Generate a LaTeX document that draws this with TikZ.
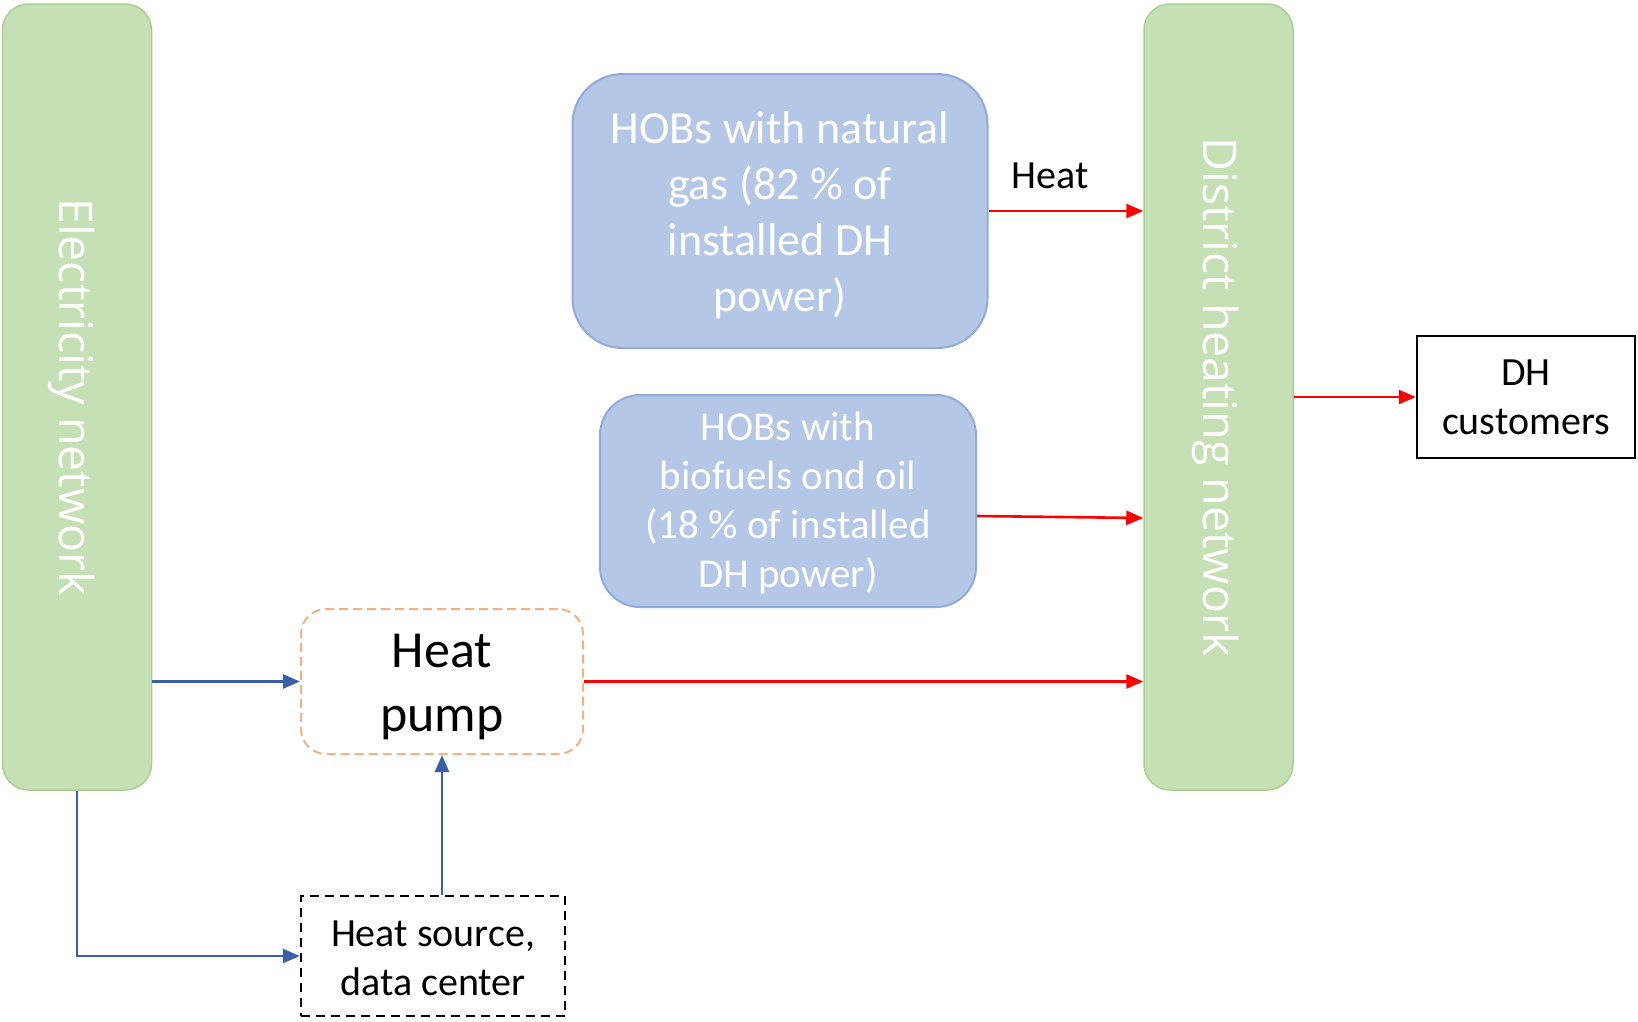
\documentclass[tikz,border=0pt]{standalone}
\usepackage{fontspec}
\setmainfont{Carlito}
\newfontfamily\barfont{Open Sans}
\usetikzlibrary{arrows.meta,calc}
\definecolor{barfill}{HTML}{C5E0B4}
\definecolor{barline}{HTML}{A9D18E}
\definecolor{hobfill}{HTML}{B4C7E7}
\definecolor{hobline}{HTML}{8FAADC}
\definecolor{hpline}{HTML}{F4B183}
\definecolor{bluearr}{HTML}{3A5FA8}
\definecolor{redarr}{HTML}{FF0000}
\begin{document}
\begin{tikzpicture}[x=1pt,y=-1pt,
  greenbar/.style={draw=barline, fill=barfill, rounded corners=26pt, line width=1.5pt, inner sep=0pt},
  bartext/.style={text=white, font=\barfont\fontsize{46.5}{55}\selectfont, inner sep=0pt},
  hobbox/.style={draw=hobline, fill=hobfill, rounded corners=50pt, line width=2pt, inner sep=0pt},
  hobtext/.style={text=white, align=center, inner sep=0pt},
  hpbox/.style={draw=hpline, dash pattern=on 9pt off 5pt, rounded corners=25pt, line width=2pt, inner sep=0pt},
  hptext/.style={align=center, inner sep=0pt, font=\fontsize{52}{64}\selectfont},
  hsbox/.style={draw=black, dash pattern=on 9pt off 6pt, line width=2.2pt, inner sep=0pt},
  smalltext/.style={align=center, inner sep=0pt, font=\fontsize{40}{49}\selectfont},
  custbox/.style={draw=black, line width=2.5pt, align=center, inner sep=0pt, font=\fontsize{40}{49}\selectfont},
  redline/.style={draw=redarr, line width=2.6pt, -{Triangle[length=17pt,width=14pt]}},
  blueline/.style={draw=bluearr, line width=2.6pt, -{Triangle[length=17pt,width=14pt]}},
  lbl/.style={inner sep=0pt, font=\fontsize{40}{48}\selectfont}
]
\useasboundingbox (0,0) rectangle (1638,1021);
% bars
\node[greenbar, minimum width=149pt, minimum height=786pt] (elec) at (77,397) {};
\node[bartext, rotate=-90] (electext) at (72,397) {Electricity network};
\node[greenbar, minimum width=149pt, minimum height=786pt] (dh) at (1218.5,397) {};
\node[bartext, rotate=-90] (dhtext) at (1216,397) {District heating network};
% HOB boxes
\node[hobbox, minimum width=415pt, minimum height=274pt] (hob1) at (780,211) {};
\node[hobtext, font=\fontsize{46}{56}\selectfont] (hob1text) at (780,215) {HOBs with natural\\gas (82 \% of\\installed DH\\power)};
\node[hobbox, minimum width=376pt, minimum height=212pt, rounded corners=40pt] (hob2) at (788,501) {};
\node[hobtext, font=\fontsize{41}{49}\selectfont] (hob2text) at (788,503) {HOBs with\\biofuels ond oil\\(18 \% of installed\\DH power)};
% heat pump, heat source, customers
\node[hpbox, minimum width=282pt, minimum height=145pt] (hp) at (442,681.5) {};
\node[hptext] (hptxt) at (442,687) {Heat\\pump};
\node[hsbox, minimum width=264pt, minimum height=120pt] (hs) at (433,956) {};
\node[smalltext] (hstext) at (433,958) {Heat source,\\data center};
\node[custbox, minimum width=218pt, minimum height=122pt] (cust) at (1526,397) {DH\\customers};
\node[lbl] (heatlbl) at (1050,176) {Heat};
% connectors
\draw[redline] (hob1.east) -- (hob1.east -| dh.west);
\draw[redline] ($(hob2.east)+(0,15)$) -- ($(hob2.east -| dh.west)+(0,17)$);
\draw[redline] (hp.east) -- (hp.east -| dh.west);
\draw[redline] (dh.east |- cust.west) -- (cust.west);
\draw[blueline] (elec.east |- hp.west) -- (hp.west);
\draw[blueline] (elec.south) -- (elec.south |- hs.west) -- (hs.west);
\draw[blueline] (hp.south |- hs.north) -- (hp.south);
\end{tikzpicture}
\end{document}
